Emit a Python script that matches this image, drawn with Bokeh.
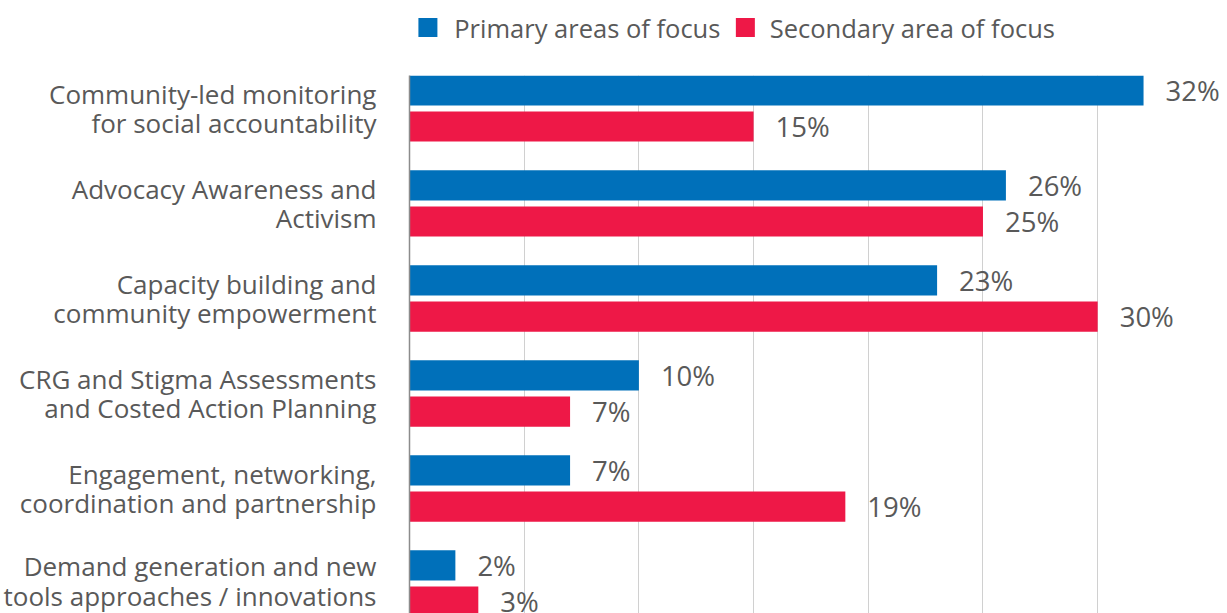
from bokeh.plotting import figure
from bokeh.layouts import column
from bokeh.models import ColumnDataSource, FixedTicker, Range1d
from bokeh.core.properties import value
from bokeh.embed import file_html
from bokeh.resources import INLINE

categories = [
    "Community-led monitoring\nfor social accountability",
    "Advocacy Awareness and\nActivism",
    "Capacity building and\ncommunity empowerment",
    "CRG and Stigma Assessments\nand Costed Action Planning",
    "Engagement, networking,\ncoordination and partnership",
    "Demand generation and new\ntools approaches / innovations",
]
primary = [32, 26, 23, 10, 7, 2]
secondary = [15, 25, 30, 7, 19, 3]
series_names = ["Primary areas of focus", "Secondary area of focus"]

BLUE = "#0070BA"
RED = "#EE1847"
GRAY = "#595959"
FONT = "Open Sans"

idx = list(range(len(categories)))
off = 0.19
h = 0.318

src_p = ColumnDataSource(dict(y=[i - off for i in idx], v=primary,
                              lab=[f"{v}%" for v in primary]))
src_s = ColumnDataSource(dict(y=[i + off for i in idx], v=secondary,
                              lab=[f"{v}%" for v in secondary]))

LEFT = 405

# ---- legend strip on top (ranges in pixels) ----
top = figure(width=1227, height=75, output_backend="svg", toolbar_location=None,
             x_range=Range1d(LEFT, 1227), y_range=Range1d(75, 0),
             min_border_left=LEFT, min_border_right=0, min_border_top=0,
             min_border_bottom=0)
top.axis.visible = False
top.grid.visible = False
top.outline_line_color = None
leg_x = [423.5, 742.5]
leg_tx = [450, 767]
top.rect(x=leg_x, y=[27, 27], width=19, height=19, width_units="screen",
         height_units="screen", color=[BLUE, RED], line_color=None)
top.text(x=leg_tx, y=[27, 27], text=series_names, text_baseline="middle",
         text_align="left", text_color=GRAY, text_font=value(FONT),
         text_font_size="25.5px")

# ---- main chart ----
p = figure(width=1227, height=538, output_backend="svg", toolbar_location=None,
           x_range=(0, 35.66), y_range=(5.316, -0.347),
           min_border_left=LEFT, min_border_top=0, min_border_right=0,
           min_border_bottom=0)
p.outline_line_color = None

p.hbar(y="y", right="v", left=0, height=h, source=src_p, color=BLUE, line_color=None)
p.hbar(y="y", right="v", left=0, height=h, source=src_s, color=RED, line_color=None)

for s in (src_p, src_s):
    p.text(x="v", y="y", text="lab", source=s, x_offset=22, text_baseline="middle",
           text_align="left", text_color=GRAY, text_font=value(FONT),
           text_font_size="27.5px")

p.xaxis.visible = False
p.xgrid.ticker = FixedTicker(ticks=[5, 10, 15, 20, 25, 30])
p.xgrid.grid_line_color = "#D0D0D0"
p.xgrid.grid_line_width = 1
p.ygrid.grid_line_color = None

ya = p.yaxis[0]
ya.ticker = FixedTicker(ticks=idx)
ya.major_label_overrides = {i: c for i, c in zip(idx, categories)}
ya.major_tick_line_color = None
ya.minor_tick_line_color = None
ya.major_tick_out = 0
ya.major_tick_in = 0
ya.axis_line_color = "#8C8C8C"
ya.axis_line_width = 1.5
ya.major_label_standoff = 33
ya.major_label_text_font = FONT
ya.major_label_text_font_size = "26px"
ya.major_label_text_color = GRAY
ya.major_label_text_align = "right"
ya.major_label_text_line_height = 0.82

layout = column(top, p, spacing=0)
open("out.html", "w").write(file_html(layout, INLINE))
